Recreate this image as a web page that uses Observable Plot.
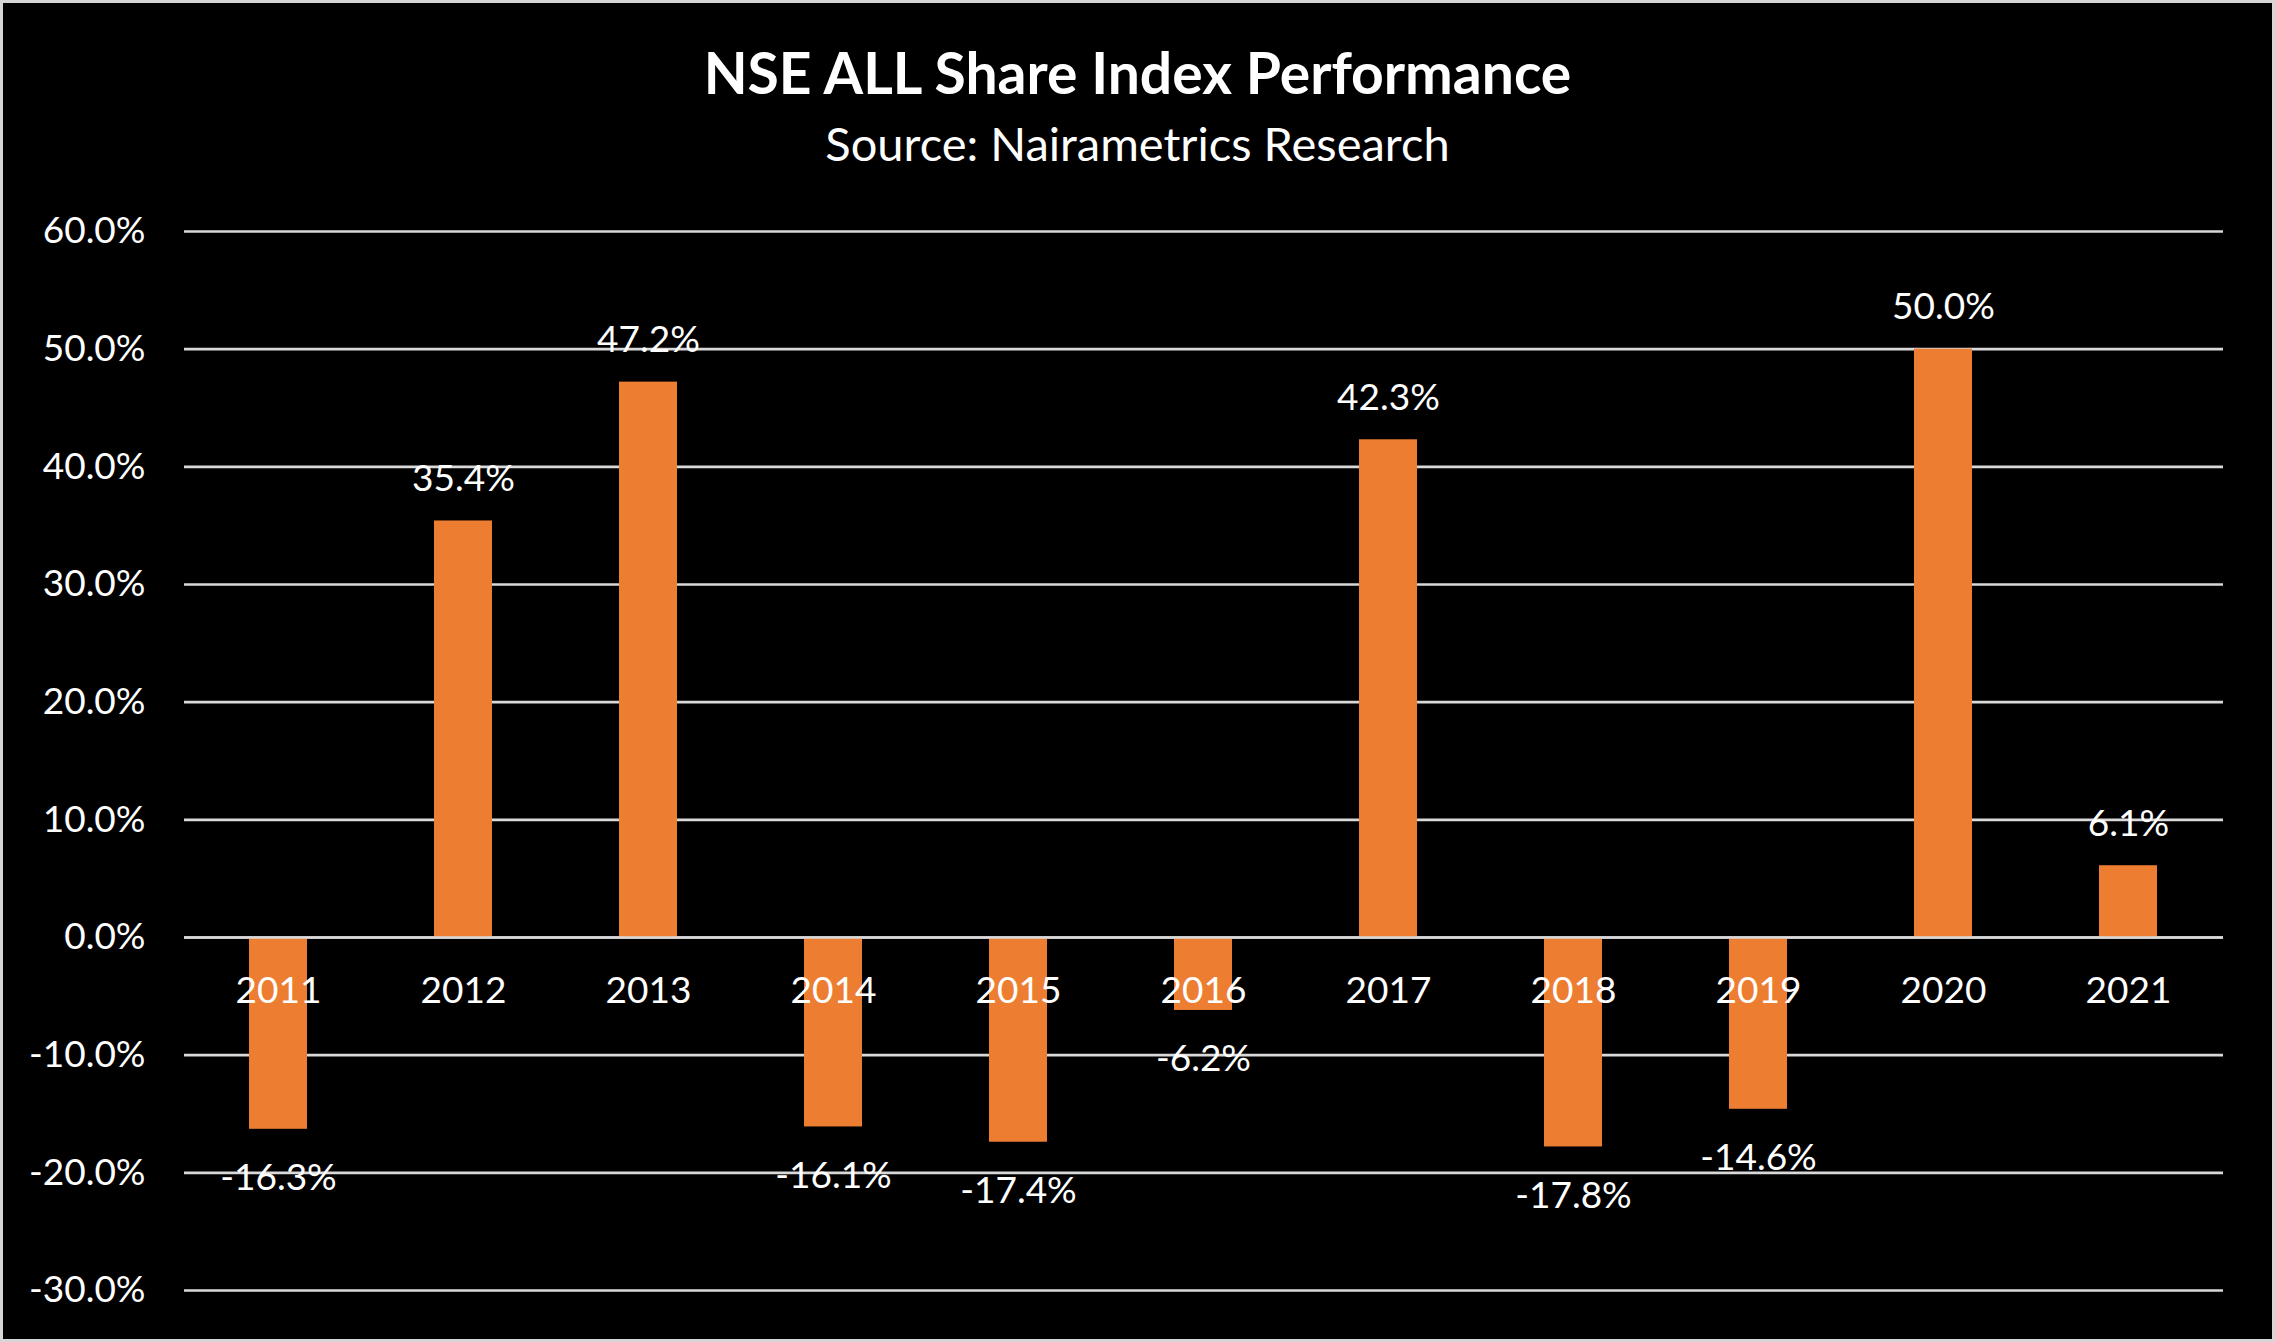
<!DOCTYPE html>
<html>
<head>
<meta charset="utf-8">
<script src="https://cdn.jsdelivr.net/npm/d3@7"></script>
<script src="https://cdn.jsdelivr.net/npm/@observablehq/plot@0.6"></script>
<style>
  html, body { margin: 0; padding: 0; background: #000; }
  #page { position: relative; width: 2275px; height: 1342px; background: #000; overflow: hidden; font-family: Lato, "Open Sans", sans-serif; }
  #frame { position: absolute; left: 0; top: 0; width: 2275px; height: 1342px; box-sizing: border-box; border: 3px solid #d6d6d6; pointer-events: none; }
  #title { position: absolute; left: 0; width: 2275px; top: 44px; text-align: center; color: #fff; font-weight: 700; font-size: 57px; line-height: 1; }
  #subtitle { position: absolute; left: 0; width: 2275px; top: 120px; text-align: center; color: #fff; font-weight: 400; font-size: 47px; line-height: 1; }
  #chart { position: absolute; left: 0; top: 180px; }
</style>
</head>
<body>
<div id="page">
  <div id="title">NSE ALL Share Index Performance</div>
  <div id="subtitle">Source: Nairametrics Research</div>
  <div id="chart"></div>
  <div id="frame"></div>
</div>
<script>
const years = ["2011","2012","2013","2014","2015","2016","2017","2018","2019","2020","2021"];
const returns = [-16.3, 35.4, 47.2, -16.1, -17.4, -6.2, 42.3, -17.8, -14.6, 50.0, 6.1];
const yTicks = [-30, -20, -10, 0, 10, 20, 30, 40, 50, 60];

const data = years.map((year, i) => ({year, value: returns[i]}));
const fmt = v => v.toFixed(1) + "%";

const chart = Plot.plot({
  width: 2275,
  height: 1162,
  marginLeft: 184,
  marginRight: 52,
  marginTop: 51,
  marginBottom: 52,
  style: {background: "transparent", color: "#fff", fontFamily: "Lato, 'Open Sans', sans-serif", fontSize: "37px"},
  x: {domain: years, paddingInner: 0.685, paddingOuter: 0.3425, axis: null},
  y: {domain: [-30, 60], ticks: yTicks},
  marks: [
    Plot.gridY(yTicks, {stroke: "#d9d9d9", strokeOpacity: 1, strokeWidth: 2.6}),
    Plot.axisY(yTicks, {tickSize: 0, tickPadding: 39, tickFormat: fmt, fill: "#fff", fontSize: 37, label: null}),
    Plot.barY(data, {x: "year", y: "value", fill: "#ED7D31"}),
    Plot.ruleY([0], {stroke: "#d9d9d9", strokeWidth: 2.6}),
    Plot.text(years, {x: d => d, y: () => 0, dy: 54, text: d => d, fill: "#fff", fontSize: 37}),
    Plot.text(data.filter(d => d.value >= 0), {x: "year", y: "value", dy: -42, text: d => fmt(d.value), fill: "#fff", fontSize: 37}),
    Plot.text(data.filter(d => d.value < 0), {x: "year", y: "value", dy: 49, text: d => fmt(d.value), fill: "#fff", fontSize: 37})
  ]
});
document.getElementById("chart").appendChild(chart);
</script>
</body>
</html>
